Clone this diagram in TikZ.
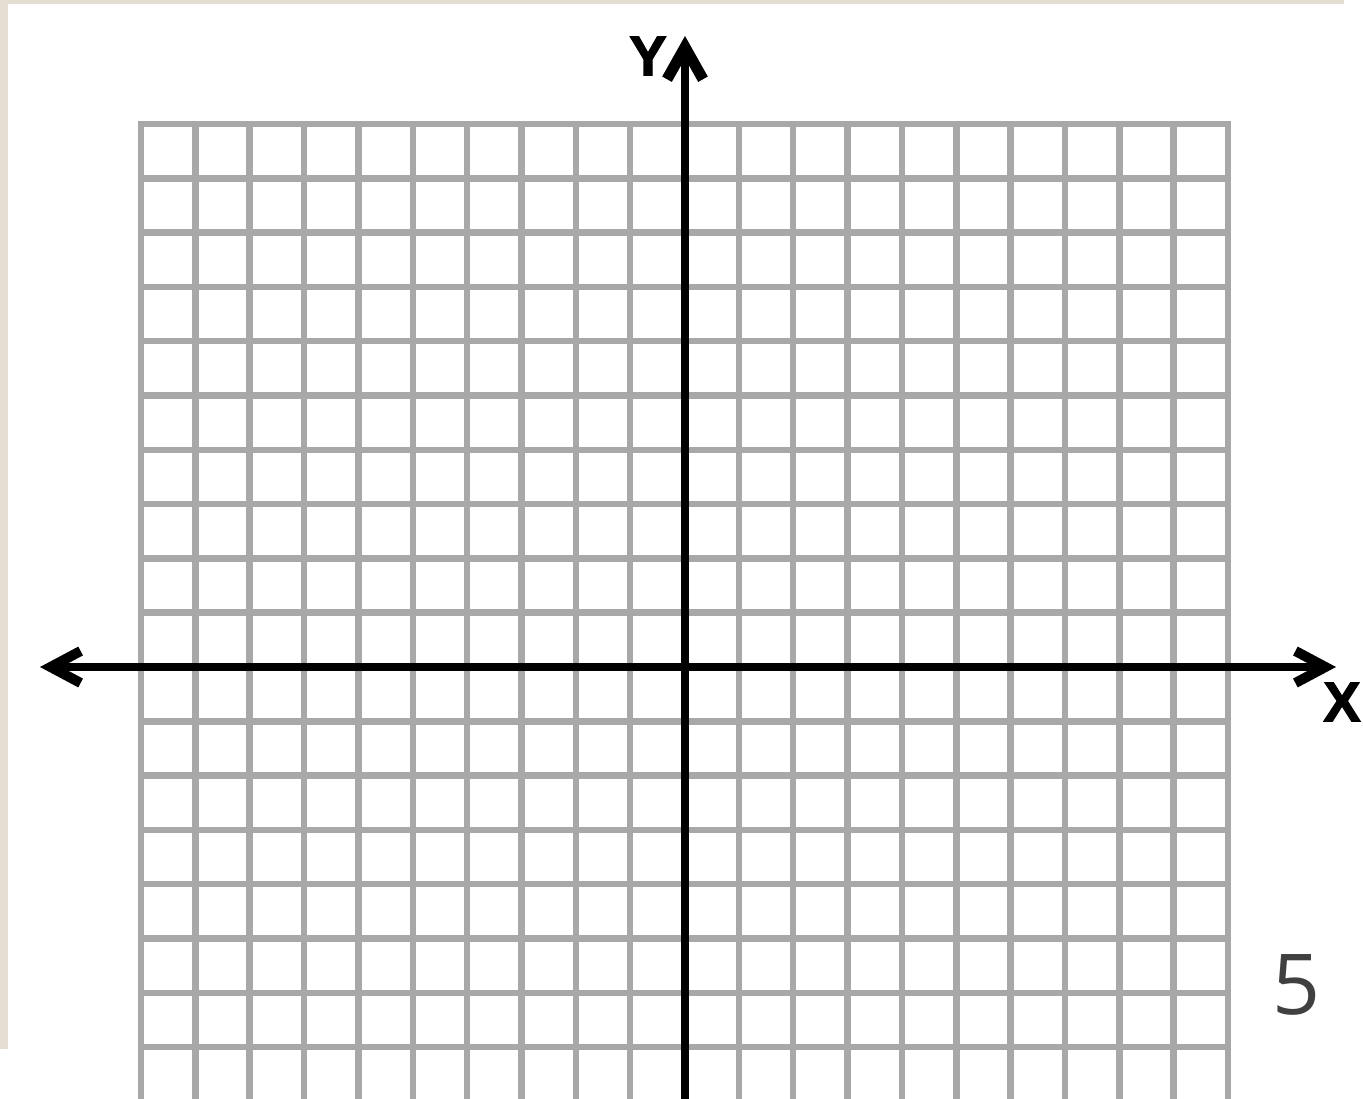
\documentclass[tikz,border=0pt]{standalone}
\usepackage{fontspec}
\setmainfont{Liberation Sans}
\newfontfamily\axisfont[FakeBold=2]{Liberation Sans Bold}
\newfontfamily\digitfont{Open Sans}
\usetikzlibrary{arrows.meta}
\definecolor{gridgray}{RGB}{168,168,168}
\definecolor{framebeige}{RGB}{227,221,210}
\definecolor{numgray}{RGB}{64,64,64}
\begin{document}
\begin{tikzpicture}[x=1pt,y=-1pt,
  gridline/.style={draw=gridgray,line width=6.5pt,line cap=rect},
  axisline/.style={draw=black,line width=8pt},
  barb/.style={arrows={Straight Barb[length=30pt,width=32pt,line width=10pt]-Straight Barb[length=30pt,width=32pt,line width=10pt]}},
  axislabel/.style={font=\axisfont\fontsize{56}{56}\selectfont,inner sep=0pt},
  pagenum/.style={font=\digitfont\fontsize{84}{84}\selectfont,text=numgray,inner sep=0pt}]
\useasboundingbox (0,0) rectangle (1363,1099);
\fill[white] (0,0) rectangle (1363,1099);
% frame strips
\fill[framebeige] (0,0) rectangle (1344,4.5);
\fill[framebeige] (0,0) rectangle (8,1049);
% grid
\begin{scope}
\clip (0,0) rectangle (1363,1099);
\foreach \i in {0,...,20}
  \draw[gridline] ({141+\i*54.35},124) -- ({141+\i*54.35},1110);
\foreach \j in {0,...,17}
  \draw[gridline] (141,{124+\j*54.3}) -- (1228,{124+\j*54.3});
\end{scope}
% axes
\coordinate (xl) at (40,667);
\coordinate (xr) at (1336,667);
\coordinate (yb) at (685,1110);
\coordinate (yt) at (685,36);
\begin{scope}
\clip (0,0) rectangle (1363,1099);
\draw[axisline,-{Straight Barb[length=32pt,width=36pt,line width=11pt]}] (yb) -- (yt);
\end{scope}
\draw[axisline,barb] (xl) -- (xr);
% labels
\node[axislabel] (ylab) at (648,56) {Y};
\node[axislabel] (xlab) at (1342,702) {X};
\node[pagenum] (num) at (1297,985) {5};
\end{tikzpicture}
\end{document}
